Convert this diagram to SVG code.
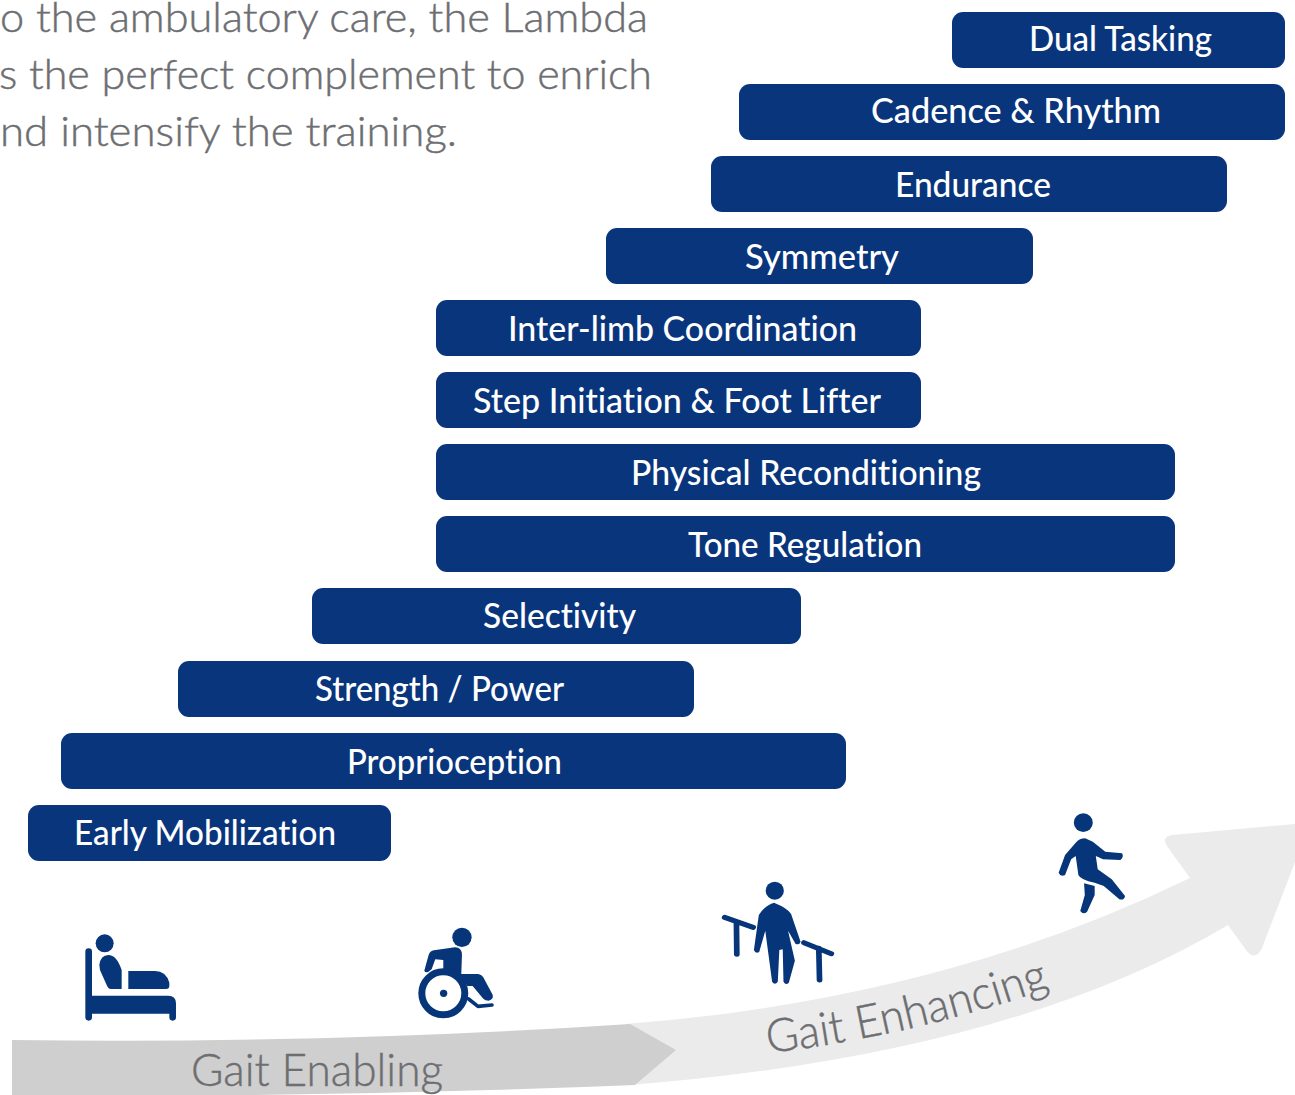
<svg xmlns="http://www.w3.org/2000/svg" width="1295" height="1095" viewBox="0 0 1295 1095">
<style>
text{font-family:Lato,"Noto Sans",sans-serif;font-variant-ligatures:none}
.bar{fill:#09357c}
.lbl{fill:#fff;font-size:35px;font-weight:500;transform:translateY(-.6px)}
.gray{fill:#6d6e71;font-weight:300;stroke:#6d6e71;stroke-width:.45px}
.ic{fill:#06357a}
.st{fill:none;stroke:#06357a;stroke-linecap:round;stroke-linejoin:round}
</style>
<defs>
<path id="enh" d="M768 1053Q915 1036 1058 985"/>
</defs>
<rect width="1295" height="1095" fill="#fff"/>
<g id="intro" class="gray" font-size="42">
<text x="0" y="32" textLength="648" lengthAdjust="spacingAndGlyphs">o the ambulatory care, the Lambda</text>
<text x="-1" y="89" textLength="653" lengthAdjust="spacingAndGlyphs">s the perfect complement to enrich</text>
<text x="0" y="146" textLength="457" lengthAdjust="spacingAndGlyphs">nd intensify the training.</text>
</g>
<g id="arrow-enhancing">
<path fill="#ebebeb" d="M625 1024Q940 1000 1190 878L1167 846Q1161 837 1172 835L1295 824V862L1262 948Q1255 962 1246 950L1228 925Q1010 1055 630 1085Z"/>
<text class="gray" font-size="46"><textPath href="#enh" textLength="290" lengthAdjust="spacingAndGlyphs">Gait Enhancing</textPath></text>
</g>
<g id="arrow-enabling">
<path fill="#cfcfcf" d="M12 1040Q330 1044 630 1024L676 1050L635 1085Q320 1098 12 1095Z"/>
<text class="gray" x="191" y="1086" font-size="46" textLength="252" lengthAdjust="spacingAndGlyphs">Gait Enabling</text>
</g>
<g id="node-dual"><rect class="bar" x="952" y="12" width="333" height="56" rx="11"/><text class="lbl" x="1029" y="52" textLength="183" lengthAdjust="spacingAndGlyphs">Dual Tasking</text></g>
<g id="node-cadence"><rect class="bar" x="739" y="84" width="546" height="56" rx="11"/><text class="lbl" x="871" y="124" textLength="290" lengthAdjust="spacingAndGlyphs">Cadence &amp; Rhythm</text></g>
<g id="node-endurance"><rect class="bar" x="711" y="156" width="516" height="56" rx="11"/><text class="lbl" x="895" y="198" textLength="156" lengthAdjust="spacingAndGlyphs">Endurance</text></g>
<g id="node-symmetry"><rect class="bar" x="606" y="228" width="427" height="56" rx="11"/><text class="lbl" x="745" y="270" textLength="154" lengthAdjust="spacingAndGlyphs">Symmetry</text></g>
<g id="node-interlimb"><rect class="bar" x="436" y="300" width="485" height="56" rx="11"/><text class="lbl" x="508" y="342" textLength="349" lengthAdjust="spacingAndGlyphs">Inter-limb Coordination</text></g>
<g id="node-step"><rect class="bar" x="436" y="372" width="485" height="56" rx="11"/><text class="lbl" x="473" y="414" textLength="408" lengthAdjust="spacingAndGlyphs">Step Initiation &amp; Foot Lifter</text></g>
<g id="node-physical"><rect class="bar" x="436" y="444" width="739" height="56" rx="11"/><text class="lbl" x="631" y="486" textLength="350" lengthAdjust="spacingAndGlyphs">Physical Reconditioning</text></g>
<g id="node-tone"><rect class="bar" x="436" y="516" width="739" height="56" rx="11"/><text class="lbl" x="688" y="558" textLength="234" lengthAdjust="spacingAndGlyphs">Tone Regulation</text></g>
<g id="node-selectivity"><rect class="bar" x="312" y="588" width="489" height="56" rx="11"/><text class="lbl" x="483" y="629" textLength="153" lengthAdjust="spacingAndGlyphs">Selectivity</text></g>
<g id="node-strength"><rect class="bar" x="178" y="661" width="516" height="56" rx="11"/><text class="lbl" x="315" y="702" textLength="249" lengthAdjust="spacingAndGlyphs">Strength / Power</text></g>
<g id="node-proprioception"><rect class="bar" x="61" y="733" width="785" height="56" rx="11"/><text class="lbl" x="347" y="775" textLength="215" lengthAdjust="spacingAndGlyphs">Proprioception</text></g>
<g id="node-early"><rect class="bar" x="28" y="805" width="363" height="56" rx="11"/><text class="lbl" x="74" y="846" textLength="262" lengthAdjust="spacingAndGlyphs">Early Mobilization</text></g>
<g id="icon-bed" class="ic" transform="translate(60 900) scale(.3333)">
<circle cx="134" cy="130" r="27"/>
<path d="M76 155Q76 145 86 145Q96 145 96 155V287H325Q348 287 348 310V352Q348 362 338 362Q328 362 328 352V341H96V352Q96 362 86 362Q76 362 76 352Z"/>
<path d="M118 195Q122 165 145 165Q170 165 185 210V267H152Q145 267 140 255L120 210Z"/>
<path d="M205 213H285Q318 213 328 248V258Q328 267 318 267H205Z"/>
</g>
<g id="icon-wheelchair" transform="translate(60 900) scale(.3333)">
<circle class="ic" cx="1206" cy="112" r="29"/>
<path class="ic" d="M1093 212L1106 165Q1110 153 1122 151L1185 142Q1206 143 1206 165L1204 222H1255Q1266 224 1270 232L1298 284Q1302 298 1286 302Q1276 302 1270 296L1238 258H1222Q1205 222 1150 215V180L1126 178L1115 208Q1098 224 1093 212Z"/>
<circle cx="1150" cy="280" r="68" fill="#fff"/>
<circle cx="1150" cy="280" r="64.500" fill="none" stroke="#06357a" stroke-width="21"/>
<circle class="ic" cx="1151" cy="280" r="11"/>
<path class="st" stroke-width="11" d="M1226 297L1254 319L1296 315"/>
</g>
<g id="icon-parallel-bars" transform="translate(700 800) scale(.3795 .3333)">
<ellipse class="ic" cx="197" cy="272" rx="24" ry="27"/>
<path class="ic" d="M195 308Q172 315 155 345L142 450Q146 462 156 456L172 392L190 545Q197 558 205 545L209 450L218 448L220 545Q226 558 234 548L250 482L232 392L252 432Q262 436 265 425L240 342Q232 325 195 308Z"/>
<path class="st" stroke-width="15" d="M65 352L140 382M96 368L97 463"/>
<path class="st" stroke-width="15" d="M274 428L346 461M313 445L315 540"/>
</g>
<g id="icon-walker" transform="translate(700 800) scale(.3795 .3333)">
<ellipse class="ic" cx="1010" cy="68" rx="25" ry="28"/>
<path class="ic" d="M1015 115Q1000 115 990 128L962 165L945 218Q950 232 962 225L978 178L990 168L997 225Q1003 240 1040 248L1064 258L1105 298Q1118 302 1120 288L1085 238L1048 208L1043 168L1062 178L1108 180Q1118 170 1112 160L1068 155L1035 125Z"/>
<path class="ic" d="M1012 250L1040 258V285L1020 335Q1010 345 1002 333L1014 285Z"/>
</g>
</svg>
